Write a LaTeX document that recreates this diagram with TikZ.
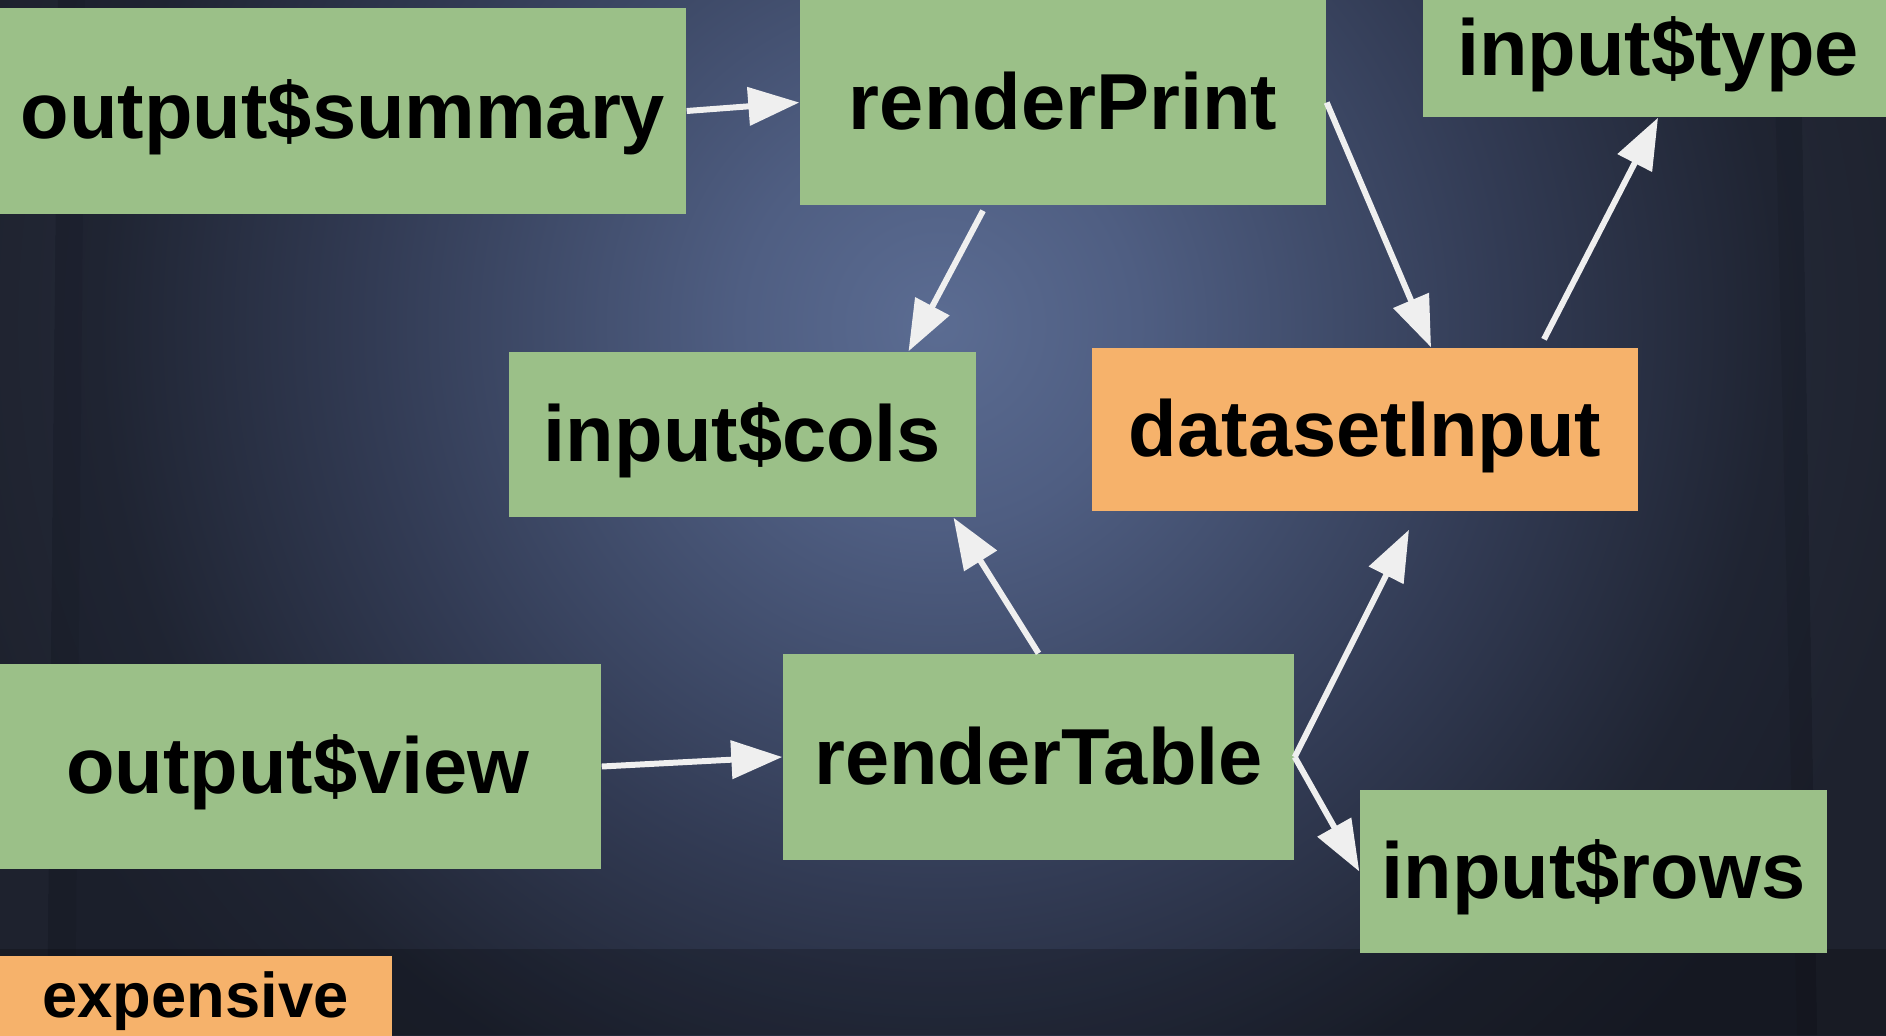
\documentclass[tikz,border=0pt]{standalone}
\usepackage{fontspec}
\setmainfont{Liberation Sans}
\usepackage{xcolor}
\usetikzlibrary{arrows.meta,positioning}
\definecolor{boxgreen}{HTML}{9BC088}
\definecolor{boxorange}{HTML}{F6B26B}
\definecolor{edgegray}{HTML}{EFEFEF}
\definecolor{glowA}{HTML}{5B6C92}
\definecolor{glowB}{HTML}{4F5E82}
\definecolor{glowC}{HTML}{3F4B69}
\definecolor{glowD}{HTML}{323B54}
\definecolor{glowE}{HTML}{1F2432}
\definecolor{glowF}{HTML}{1B1F2B}
\pgfdeclareradialshading{backglow}{\pgfpoint{0bp}{0bp}}{color(0bp)=(glowA); color(2.5bp)=(glowB); color(5bp)=(glowC); color(7.1bp)=(glowD); color(10.5bp)=(glowE); color(12.5bp)=(glowF); color(50bp)=(glowF)}

\begin{document}
\begin{tikzpicture}[
    box/.style={fill=boxgreen, inner sep=0pt, text height=15.6pt, text depth=0pt, font=\bfseries\fontsize{22.6}{27}\selectfont},
    costly/.style={box, fill=boxorange},
    arrow/.style={-{Triangle[length=5.1mm, width=3.75mm]}, draw=edgegray, line width=1.7pt}
]
    \useasboundingbox (0,0) rectangle (18.86,10.35);
    \clip (0,0) rectangle (18.86,10.35);
    % dark backdrop with a soft glow and curtain folds at the sides
    \shade[shading=backglow] (9.38,7.10) circle (20);
    \fill[white, opacity=0.015] (0,10.35) -- (0.58,10.35) -- (0.47,0) -- (0,0) -- cycle;
    \fill[black, opacity=0.06] (0.58,10.35) -- (0.85,10.35) -- (0.75,0) -- (0.47,0) -- cycle;
    \fill[black, opacity=0.07] (17.73,10.35) -- (18.00,10.35) -- (18.17,0) -- (17.97,0) -- cycle;
    \fill[white, opacity=0.015] (18.00,10.35) -- (18.86,10.35) -- (18.86,0) -- (18.17,0) -- cycle;
    \fill[black, opacity=0.2] (0,0) rectangle (18.86,0.86);

    \node[box, minimum width=6.86cm, minimum height=2.06cm] (summary) at (3.43,9.24) {output\$summary};
    \node[box, minimum width=5.26cm, minimum height=2.05cm] (renderPrint) at (10.63,9.325) {renderPrint};
    \node[box, minimum width=4.70cm, minimum height=1.38cm] (inputType) at (16.58,9.87) {input\$type};
    \node[box, minimum width=4.67cm, minimum height=1.65cm] (inputCols) at (7.425,6.005) {input\$cols};
    \node[costly, minimum width=5.46cm, minimum height=1.63cm] (datasetInput) at (13.65,6.055) {datasetInput};
    \node[box, minimum width=6.06cm, minimum height=2.05cm] (outputView) at (2.98,2.685) {output\$view};
    \node[box, minimum width=5.11cm, minimum height=2.06cm] (renderTable) at (10.385,2.78) {renderTable};
    \node[box, minimum width=4.67cm, minimum height=1.63cm] (inputRows) at (15.935,1.635) {input\$rows};
    \node[costly, minimum width=3.93cm, minimum height=0.80cm, text height=12.5pt, font=\bfseries\fontsize{18}{22}\selectfont] (legend) at (1.955,0.39) {expensive};

    \draw[arrow] (summary.east) -- (renderPrint.west);
    \draw[arrow] ([xshift=-8mm, yshift=-0.5mm]renderPrint.south) -- ([xshift=16.6mm]inputCols.north);
    \draw[arrow] (renderPrint.east) -- ([xshift=6.6mm]datasetInput.north);
    \draw[arrow] ([xshift=17.9mm, yshift=0.8mm]datasetInput.north) -- (inputType.south);
    \draw[arrow] (renderTable.north) -- ([xshift=21.1mm]inputCols.south);
    \draw[arrow] (renderTable.east) -- ([xshift=4.4mm, yshift=-1.8mm]datasetInput.south);
    \draw[arrow] (renderTable.east) -- (inputRows.west);
    \draw[arrow] (outputView.east) -- (renderTable.west);
\end{tikzpicture}
\end{document}
